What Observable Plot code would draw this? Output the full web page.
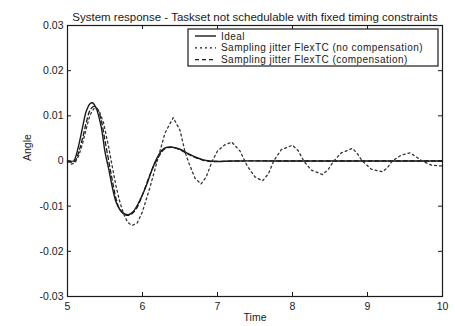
<!DOCTYPE html>
<html>
<head>
<meta charset="utf-8">
<script src="https://cdn.jsdelivr.net/npm/d3@7"></script>
<script src="https://cdn.jsdelivr.net/npm/@observablehq/plot@0.6"></script>
<style>
  html, body { margin: 0; padding: 0; background: #fff; }
  #chart { width: 455px; height: 326px; }
  svg { font-family: "Liberation Sans", Arial, sans-serif; }
</style>
</head>
<body>
<div id="chart"></div>
<script>
const titleText = "System response - Taskset not schedulable with fixed timing constraints";
const xLabel = "Time";
const yLabel = "Angle";
const xTicks = [5, 6, 7, 8, 9, 10];
const yTicks = [-0.03, -0.02, -0.01, 0, 0.01, 0.02, 0.03];
const seriesNames = ["Ideal", "Sampling jitter FlexTC (no compensation)", "Sampling jitter FlexTC (compensation)"];

const idealT = [5.0, 5.08, 5.1, 5.15, 5.2, 5.25, 5.3, 5.33, 5.38, 5.45, 5.5, 5.55, 5.6, 5.65, 5.7, 5.75, 5.81, 5.87, 5.95, 6.05, 6.12, 6.18, 6.25, 6.3, 6.38, 6.5, 6.6, 6.7, 6.8, 6.9, 7.0, 7.2, 8.0, 9.0, 10.0];
const idealY = [0, 0, 0.0005, 0.0035, 0.0074, 0.011, 0.0127, 0.0129, 0.0118, 0.0075, 0.002, -0.0018, -0.006, -0.0092, -0.0108, -0.0116, -0.0119, -0.0113, -0.0092, -0.0055, -0.0022, 0.0002, 0.0022, 0.0029, 0.0031, 0.0026, 0.0017, 0.0009, 0.0003, 0.0, -0.0001, 0, 0, 0, 0];

const noCompT = [5.0, 5.05, 5.1, 5.15, 5.2, 5.25, 5.3, 5.36, 5.42, 5.48, 5.55, 5.6, 5.65, 5.7, 5.75, 5.8, 5.86, 5.93, 6.0, 6.1, 6.2, 6.3, 6.41, 6.5, 6.57, 6.62, 6.7, 6.78, 6.85, 6.93, 7.0, 7.1, 7.19, 7.3, 7.4, 7.5, 7.6, 7.68, 7.75, 7.85, 8.0, 8.08, 8.15, 8.25, 8.4, 8.48, 8.55, 8.65, 8.8, 8.87, 8.93, 9.05, 9.2, 9.27, 9.33, 9.45, 9.57, 9.65, 9.73, 9.85, 9.95, 10.0];
const noCompY = [0, -0.0007, -0.0004, 0.0012, 0.0038, 0.0072, 0.0102, 0.0118, 0.0112, 0.0085, 0.003, -0.0015, -0.0058, -0.0092, -0.0118, -0.0135, -0.0143, -0.0137, -0.0112, -0.0058, 0.0002, 0.0062, 0.0096, 0.0068, 0.0018, -0.0005, -0.0038, -0.0051, -0.0035, 0.0, 0.0022, 0.0036, 0.0042, 0.0022, -0.0012, -0.0035, -0.0044, -0.0028, 0.0, 0.0025, 0.0035, 0.0022, 0.0, -0.002, -0.003, -0.0018, 0.0, 0.0018, 0.0028, 0.0015, 0.0, -0.0018, -0.0024, -0.0014, 0.0, 0.0013, 0.0018, 0.0009, 0.0, -0.0009, -0.0011, -0.0011];

const compT = [5.0, 5.05, 5.1, 5.15, 5.2, 5.25, 5.3, 5.35, 5.4, 5.45, 5.5, 5.55, 5.6, 5.65, 5.7, 5.78, 5.85, 5.92, 6.0, 6.1, 6.2, 6.3, 6.4, 6.5, 6.6, 6.7, 6.8, 6.9, 7.0, 7.3, 8.0, 9.0, 10.0];
const compY = [0, -0.0003, 0.0, 0.002, 0.005, 0.0085, 0.0112, 0.0121, 0.0115, 0.009, 0.0045, 0.0, -0.0045, -0.0085, -0.0108, -0.012, -0.0118, -0.0105, -0.0075, -0.003, 0.0005, 0.0027, 0.003, 0.0025, 0.0016, 0.0008, 0.0002, -0.0001, -0.0001, 0, 0, 0, 0];

const toRows = (ts, ys) => ts.map((t, i) => ({t, v: ys[i]}));
const ideal = toRows(idealT, idealY);
const noComp = toRows(noCompT, noCompY);
const comp = toRows(compT, compY);

const W = 455, H = 326, mL = 67, mR = 13, mT = 25, mB = 30;
const plotH = H - mT - mB;
const ink = "#1a1a1a";
const fmt = d => d === 0 ? "0" : String(d).replace("\u2212", "-");

const chart = Plot.plot({
  width: W, height: H,
  marginLeft: mL, marginRight: mR, marginTop: mT, marginBottom: mB,
  style: {fontFamily: "'Liberation Sans', Arial, sans-serif", fontSize: "10px", color: ink, background: "#fff"},
  x: {domain: [5, 10]},
  y: {domain: [-0.03, 0.03]},
  marks: [
    Plot.axisX(xTicks, {tickSize: 0, tickPadding: 6, tickFormat: d => String(d), label: null, fontSize: 10.5}),
    Plot.axisY(yTicks, {tickSize: 0, tickPadding: 4, tickFormat: fmt, label: null, fontSize: 10.5}),
    // inner ticks (MATLAB style)
    Plot.tickX(xTicks, {x: d => d, insetTop: plotH - 4, stroke: ink}),
    Plot.tickX(xTicks, {x: d => d, insetBottom: plotH - 4, stroke: ink}),
    Plot.tickY(yTicks, {y: d => d, insetRight: W - mL - mR - 4, stroke: ink}),
    Plot.tickY(yTicks, {y: d => d, insetLeft: W - mL - mR - 4, stroke: ink}),
    Plot.line(ideal, {x: "t", y: "v", stroke: ink, strokeWidth: 1.4, curve: "catmull-rom"}),
    Plot.line(comp, {x: "t", y: "v", stroke: ink, strokeWidth: 1.3, strokeDasharray: "4,3", curve: "catmull-rom"}),
    Plot.line(noComp, {x: "t", y: "v", stroke: "#333", strokeWidth: 1.3, strokeDasharray: "2,3", curve: "linear"}),
    Plot.frame({stroke: ink, strokeWidth: 1.2}),
    Plot.text([titleText], {frameAnchor: "top", dy: -13, text: d => d, fontSize: 11.5, fill: ink}),
    Plot.text([xLabel], {frameAnchor: "bottom", dy: 24, text: d => d, fontSize: 10.5, fill: ink}),
    Plot.text([yLabel], {frameAnchor: "left", dx: -40, rotate: -90, text: d => d, fontSize: 10.5, fill: ink})
  ]
});
document.getElementById("chart").appendChild(chart);

// legend box inside the plot area
const svg = d3.select(chart);
const lg = svg.append("g").attr("transform", "translate(188,29)")
  .attr("text-anchor", "start")
  .style("font-family", "'Liberation Sans', Arial, sans-serif").style("font-size", "10px")
  .style("letter-spacing", "0.45px");
lg.append("rect").attr("width", 250).attr("height", 37).attr("fill", "#fff").attr("stroke", ink).attr("stroke-width", 1.2);
const styles = [
  {dash: null, w: 1.4},
  {dash: "2,3", w: 1.3},
  {dash: "4,3", w: 1.3}
];
seriesNames.forEach((name, i) => {
  const y = 7 + i * 11.8;
  lg.append("line").attr("x1", 7).attr("x2", 28).attr("y1", y).attr("y2", y)
    .attr("stroke", ink).attr("stroke-width", styles[i].w)
    .attr("stroke-dasharray", styles[i].dash);
  lg.append("text").attr("x", 33).attr("y", y).attr("dy", "0.35em")
    .attr("text-anchor", "start").attr("fill", ink).text(name);
});
</script>
</body>
</html>
